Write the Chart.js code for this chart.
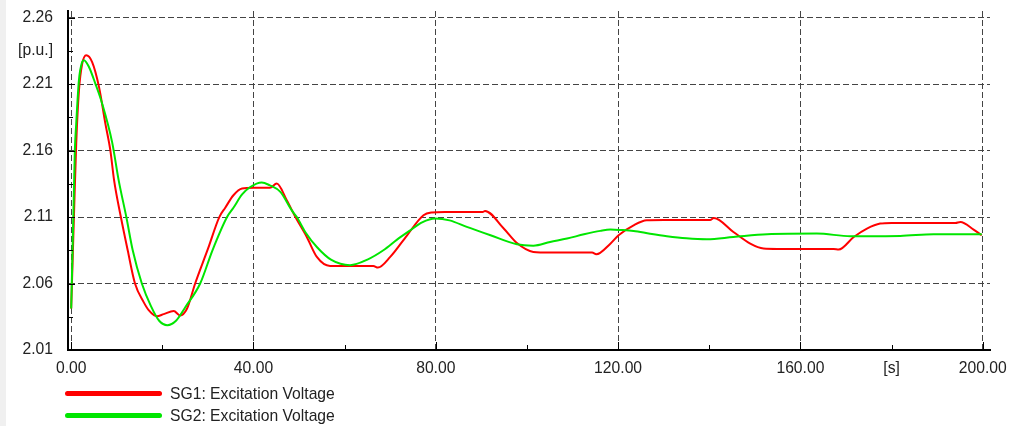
<!DOCTYPE html>
<html>
<head>
<meta charset="utf-8">
<script src="https://cdn.jsdelivr.net/npm/chart.js@4.4.1/dist/chart.umd.min.js"></script>
<style>
  body { margin: 0; background: #fff; font-family: 'Liberation Sans', Arial, sans-serif; }
  #wrap { position: relative; width: 1009px; height: 426px; overflow: hidden; }
  #strip { position: absolute; left: 0; top: 0; width: 6px; height: 426px; background: #f0f0f0; }
  #myChart { position: absolute; left: 0; top: 0; }
  .leg { position: absolute; left: 0; height: 22px; width: 400px; }
  .leg .swatch { position: absolute; left: 65px; top: 8px; width: 97px; height: 5px; border-radius: 3px; }
  .leg .txt { position: absolute; left: 170px; top: 2px; font-size: 15.7px; color: #222; line-height: 18px; white-space: nowrap; }
</style>
</head>
<body>
<div id="wrap">
  <div id="strip"></div>
  <canvas id="myChart" width="1009" height="426"></canvas>
  <div id="legend"></div>
</div>
<script>
// time [s] and excitation voltage [p.u.]
const sg1Time = [0, 0.6, 1.1, 1.7, 2.4, 3.3, 4.6, 6.1, 7.5, 8.6, 9.4, 10.9, 12.4, 14.0, 15.9, 17.0, 18.8,
  20.3, 22.5, 23.9, 25.4, 27.2, 30.0, 32.5, 33.8, 35.6, 37.5, 40.0, 43.6, 45.1, 47.3, 49.2, 51.7, 53.9,
  56.8, 60.0, 66.3, 67.3, 70.0, 73.7, 77.3, 79.1, 82.0, 90.3, 90.8, 94.9, 97.8, 101.4, 105.0, 114.3,
  115.2, 118.3, 120.1, 123.4, 126.3, 130.0, 140.2, 141.0, 145.3, 149.0, 151.9, 155.0, 167.3, 168.4,
  171.7, 174.6, 177.5, 180.0, 194.0, 195.1, 198.0, 199.8];
const sg1Values = [2.0412, 2.110, 2.165, 2.205, 2.225, 2.2317, 2.2266, 2.2079, 2.1803, 2.160, 2.138, 2.110, 2.085, 2.060, 2.046, 2.040, 2.0354,
  2.037, 2.0393, 2.036, 2.041, 2.060, 2.086, 2.110, 2.117, 2.1264, 2.1315, 2.132, 2.132, 2.1352, 2.1226, 2.110, 2.095, 2.080,
  2.0732, 2.0732, 2.0732, 2.072, 2.080, 2.0963, 2.1114, 2.1134, 2.1138, 2.1138, 2.1146, 2.1014, 2.0905, 2.0838, 2.0833, 2.0833,
  2.082, 2.090, 2.0963, 2.1038, 2.1076, 2.1078, 2.1078, 2.1093, 2.0988, 2.090, 2.0863, 2.086, 2.086, 2.0856,
  2.095, 2.1013, 2.1051, 2.1056, 2.1056, 2.1063, 2.1006, 2.0963];

const sg2Time = [0, 0.6, 0.8, 1.1, 1.7, 2.4, 2.8, 3.9, 5.3, 6.8, 9.0, 10.4, 12.1, 13.5, 15.5, 17.5, 19.3, 21.1,
  23.0, 25.0, 28.3, 31.0, 34.2, 35.6, 37.5, 39.3, 41.8, 43.5, 45.9, 48.4, 49.5, 51.5, 53.9, 57.0, 61.2,
  65.0, 68.5, 71.5, 74.4, 77.0, 79.9, 83.0, 86.8, 92.0, 97.8, 101.4, 105.1, 108.8, 112.5, 116.1, 118.3,
  120.5, 123.4, 127.0, 130.7, 135.0, 139.5, 145.3, 152.7, 163.6, 171.0, 181.9, 189.2, 199.8];
const sg2Values = [2.0412, 2.130, 2.160, 2.180, 2.213, 2.2266, 2.228, 2.2229, 2.2104, 2.1953, 2.1660, 2.138, 2.110, 2.085, 2.060, 2.043, 2.032, 2.0287,
  2.032, 2.042, 2.060, 2.085, 2.110, 2.117, 2.127, 2.1326, 2.136, 2.134, 2.1289, 2.115, 2.110, 2.098, 2.0875, 2.078, 2.0738,
  2.078, 2.085, 2.093, 2.100, 2.106, 2.1089, 2.1075, 2.1026, 2.0963, 2.0895, 2.0885, 2.0913, 2.0938, 2.097, 2.0996, 2.1006,
  2.1003, 2.0996, 2.0975, 2.0956, 2.094, 2.0933, 2.095, 2.0971, 2.0976, 2.0956, 2.0958, 2.0971, 2.0971];

const xTickValues = [0, 20, 40, 60, 80, 100, 120, 140, 160, 180, 200];
const xTickLabels = ['0.00', '', '40.00', '', '80.00', '', '120.00', '', '160.00', '[s]', '200.00'];
const yTickValues = [2.01, 2.035, 2.06, 2.085, 2.11, 2.135, 2.16, 2.185, 2.21, 2.235, 2.26];
const yTickLabels = ['2.01', '', '2.06', '', '2.11', '', '2.16', '', '2.21', '[p.u.]', '2.26'];

const seriesNames = ['SG1: Excitation Voltage', 'SG2: Excitation Voltage'];
const seriesColors = ['#ff0000', '#00e600'];

function toPoints(ts, vs) {
  return ts.map((t, i) => ({ x: t, y: vs[i] }));
}

// ticks that carry a value label get a dashed grid line; the rest only a short tick mark
function isMajor(labels, i) {
  return !!labels[i] && labels[i][0] !== '[';
}
function gridColor(labels) {
  return ctx => (ctx.type === 'tick' && isMajor(labels, ctx.index)) ? '#444' : 'rgba(0,0,0,0)';
}

// short tick marks drawn on the inside of the axes
const innerTicks = {
  id: 'innerTicks',
  afterDraw(chart) {
    const c = chart.ctx;
    const xs = chart.scales.x, ys = chart.scales.y;
    const area = chart.chartArea;
    c.save();
    c.strokeStyle = '#000';
    c.lineWidth = 1;
    c.beginPath();
    xs.ticks.forEach((t, i) => {
      const px = Math.round(xs.getPixelForValue(t.value)) + 0.5;
      c.moveTo(px, area.bottom);
      c.lineTo(px, area.bottom - (isMajor(xTickLabels, i) ? 8 : 5));
    });
    ys.ticks.forEach((t, i) => {
      const py = Math.round(ys.getPixelForValue(t.value)) + 0.5;
      c.moveTo(area.left, py);
      c.lineTo(area.left + (isMajor(yTickLabels, i) ? 7 : 5), py);
    });
    c.stroke();
    c.restore();
  }
};

const font = { family: "'Liberation Sans', Arial, sans-serif", size: 15.7 };

const ctx = document.getElementById('myChart').getContext('2d');
const myChart = new Chart(ctx, {
  type: 'line',
  data: {
    datasets: [{
      label: seriesNames[0],
      data: toPoints(sg1Time, sg1Values),
      borderColor: seriesColors[0],
      backgroundColor: seriesColors[0],
      borderWidth: 2,
      pointRadius: 0,
      cubicInterpolationMode: 'monotone',
      order: 1
    }, {
      label: seriesNames[1],
      data: toPoints(sg2Time, sg2Values),
      borderColor: seriesColors[1],
      backgroundColor: seriesColors[1],
      borderWidth: 2,
      pointRadius: 0,
      cubicInterpolationMode: 'monotone',
      order: 0
    }]
  },
  options: {
    responsive: false,
    animation: false,
    layout: { padding: { top: 11, right: 19, left: 0, bottom: 0 } },
    plugins: { legend: { display: false }, tooltip: { enabled: false } },
    scales: {
      x: {
        type: 'linear',
        min: -0.7,
        max: 201.6,
        afterBuildTicks: axis => { axis.ticks = xTickValues.map(v => ({ value: v })); },
        afterFit: axis => {
          axis.height = 76;
          axis.paddingLeft = 0;
          axis.paddingRight = 0;
        },
        ticks: {
          autoSkip: false,
          maxRotation: 0,
          padding: 9,
          color: '#222',
          font: font,
          callback: (v, i) => xTickLabels[i]
        },
        grid: { color: gridColor(xTickLabels), lineWidth: 1, drawTicks: false },
        border: { display: true, color: '#000', width: 2, dash: [6, 3] }
      },
      y: {
        min: 2.01,
        max: 2.265,
        afterBuildTicks: axis => { axis.ticks = yTickValues.map(v => ({ value: v })); },
        afterFit: axis => {
          axis.width = 68;
          axis.paddingTop = 0;
          axis.paddingBottom = 0;
        },
        ticks: {
          autoSkip: false,
          padding: 15,
          color: '#222',
          font: font,
          callback: (v, i) => yTickLabels[i]
        },
        grid: { color: gridColor(yTickLabels), lineWidth: 1, drawTicks: false },
        border: { display: true, color: '#000', width: 2, dash: [6, 3] }
      }
    }
  },
  plugins: [innerTicks]
});

// legend stacked under the plot
const legend = document.getElementById('legend');
seriesNames.forEach((name, i) => {
  const row = document.createElement('div');
  row.className = 'leg';
  row.style.top = (383 + i * 22) + 'px';
  row.innerHTML = '<div class="swatch" style="background:' + seriesColors[i] + '"></div><div class="txt">' + name + '</div>';
  legend.appendChild(row);
});
</script>
</body>
</html>
